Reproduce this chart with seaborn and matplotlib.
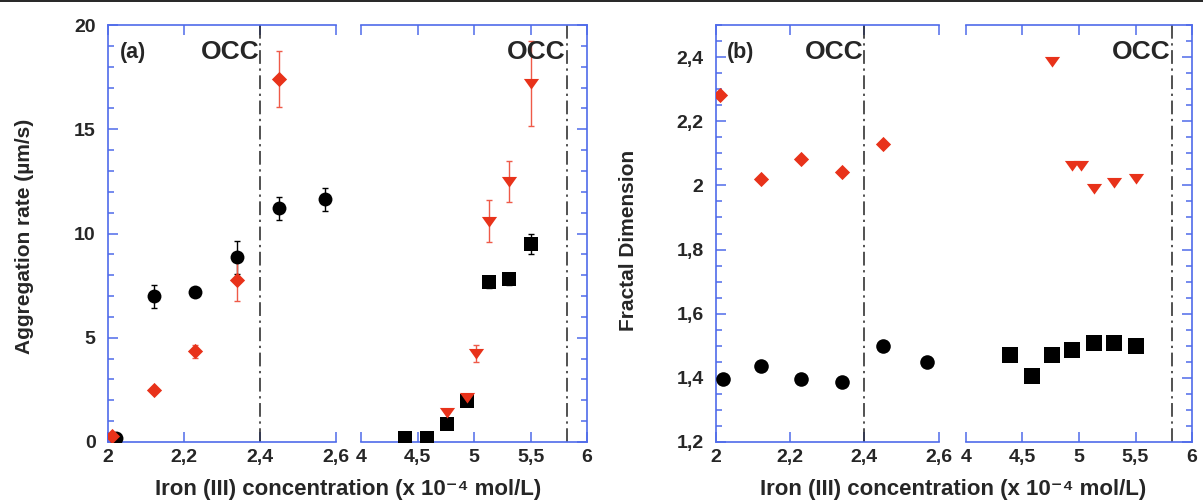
import numpy as np
import pandas as pd
import matplotlib
matplotlib.use('Agg')
import matplotlib.pyplot as plt
import matplotlib.transforms as mtransforms
from matplotlib.ticker import FuncFormatter, MultipleLocator, FixedLocator
from matplotlib.lines import Line2D
import seaborn as sns

# ---------------- data ----------------
# panel (a): aggregation rate, low concentration part (x 2 - 2.6)
circ_x = [2.02, 2.12, 2.23, 2.34, 2.45, 2.57]
circ_rate = [0.2, 7.0, 7.2, 8.85, 11.2, 11.65]
circ_rate_err = [0.0, 0.55, 0.2, 0.8, 0.53, 0.55]
diam_x = [2.01, 2.12, 2.23, 2.34, 2.45]
diam_rate = [0.3, 2.5, 4.35, 7.75, 17.4]
diam_rate_err = [0.0, 0.0, 0.3, 0.98, 1.33]

# panel (a): high concentration part (x 4 - 6)
sq_x = [4.39, 4.58, 4.76, 4.94, 5.13, 5.31, 5.5]
sq_rate = [0.2, 0.2, 0.86, 1.97, 7.65, 7.8, 9.5]
sq_rate_err = [0.0, 0.0, 0.0, 0.2, 0.25, 0.25, 0.5]
tri_x = [4.76, 4.94, 5.02, 5.13, 5.31, 5.5]
tri_rate = [1.45, 2.17, 4.25, 10.6, 12.5, 17.2]
tri_rate_err = [0.0, 0.0, 0.42, 1.0, 1.0, 2.05]

# panel (b): fractal dimension
circ_df = [1.397, 1.437, 1.397, 1.388, 1.498, 1.448]
diam_df = [2.281, 2.019, 2.081, 2.042, 2.128]
sq_df = [1.47, 1.407, 1.47, 1.488, 1.508, 1.508, 1.498]
tri_df = [2.387, 2.063, 2.063, 1.993, 2.011, 2.022]

occ_low = 2.4
occ_high = 5.82

x_label = 'Iron (III) concentration (x 10\u207b\u2074 mol/L)'

# ---------------- style ----------------
sns.set_style('ticks')
plt.rcParams['font.family'] = ['Liberation Sans', 'DejaVu Sans']
plt.rcParams['font.weight'] = 'bold'

blue = '#4f6bea'
red = '#e8321a'
red_err = '#ef5a48'

tri_marker = [(-1, 0.6), (1, 0.6), (0, -0.8)]

fmt = FuncFormatter(lambda v, p: f'{v:g}'.replace('.', ','))

fig = plt.figure(figsize=(12.03, 5.04), dpi=100)
fig.add_artist(Line2D([0, 1], [0.998, 0.998], color='black', lw=1.2,
                      transform=fig.transFigure))

W, H = 1203, 504


def make_axes(x0, x1):
    return fig.add_axes([x0 / W, (H - 442) / H, (x1 - x0) / W, 417 / H])


def style_axes(ax, side):
    for s in ax.spines.values():
        s.set_color(blue)
        s.set_linewidth(1.2)
    ax.tick_params(which='both', direction='in', color=blue, width=1.1,
                   labelsize=14, pad=5)
    ax.tick_params(which='major', length=7)
    ax.tick_params(which='minor', length=4)
    ax.tick_params(axis='x', top=True, bottom=True, which='major')
    ax.tick_params(axis='x', which='minor', top=False, bottom=False)
    ax.xaxis.set_major_formatter(fmt)
    if side == 'left':
        ax.spines['right'].set_visible(False)
        ax.tick_params(axis='y', which='both', left=True, right=False,
                       labelleft=True, pad=9)
        ax.yaxis.set_major_formatter(fmt)
    else:
        ax.spines['left'].set_visible(False)
        ax.tick_params(axis='y', which='both', left=False, right=True,
                       labelleft=False, labelright=False)
    for lab in ax.get_xticklabels() + ax.get_yticklabels():
        lab.set_fontweight('bold')


def scatter(ax, x, y, marker, color, size, err=None, ecolor=None):
    if err is not None:
        ax.errorbar(x, y, yerr=err, fmt='none', ecolor=ecolor,
                    elinewidth=1.0, capsize=2.5, capthick=1.0, zorder=2)
    df = pd.DataFrame({'x': x, 'y': y})
    sns.scatterplot(data=df, x='x', y='y', ax=ax, marker=marker,
                    color=color, s=size, edgecolor=color, linewidth=0,
                    zorder=3, legend=False)
    ax.set_xlabel('')
    ax.set_ylabel('')


def occ(ax, xpos):
    ax.axvline(xpos, color='#222222', lw=1.1, ls=(0, (9, 3, 1.5, 3)),
               zorder=1)
    trans = mtransforms.blended_transform_factory(ax.transData, ax.transAxes)
    ax.text(xpos - 0.003 * (ax.get_xlim()[1] - ax.get_xlim()[0]), 0.935,
            'OCC', transform=trans, ha='right', va='center',
            fontsize=19, fontweight='bold')


# ---------------- panel (a) ----------------
a1 = make_axes(108, 336)
a2 = make_axes(361, 587)
for ax in (a1, a2):
    ax.set_ylim(0, 20)
    ax.yaxis.set_major_locator(MultipleLocator(5))
    ax.yaxis.set_minor_locator(MultipleLocator(1))
a1.set_xlim(2, 2.6)
a1.xaxis.set_major_locator(FixedLocator([2, 2.2, 2.4, 2.6]))
a2.set_xlim(4, 6)
a2.xaxis.set_major_locator(FixedLocator([4, 4.5, 5, 5.5, 6]))

scatter(a1, circ_x, circ_rate, 'o', 'black', 100, circ_rate_err, 'black')
scatter(a1, diam_x, diam_rate, 'D', red, 60, diam_rate_err, red_err)
scatter(a2, sq_x, sq_rate, 's', 'black', 110, sq_rate_err, 'black')
scatter(a2, tri_x, tri_rate, tri_marker, red, 120, tri_rate_err, red_err)
occ(a1, occ_low)
occ(a2, occ_high)
style_axes(a1, 'left')
style_axes(a2, 'right')
a1.text(0.05, 0.935, '(a)', transform=a1.transAxes, ha='left', va='center',
        fontsize=15.5, fontweight='bold')

# ---------------- panel (b) ----------------
b1 = make_axes(716, 938.5)
b2 = make_axes(966, 1192)
for ax in (b1, b2):
    ax.set_ylim(1.2, 2.5)
    ax.yaxis.set_major_locator(MultipleLocator(0.2))
    ax.yaxis.set_minor_locator(MultipleLocator(0.05))
b1.set_xlim(2, 2.6)
b1.xaxis.set_major_locator(FixedLocator([2, 2.2, 2.4, 2.6]))
b2.set_xlim(4, 6)
b2.xaxis.set_major_locator(FixedLocator([4, 4.5, 5, 5.5, 6]))

scatter(b1, circ_x, circ_df, 'o', 'black', 110)
scatter(b1, diam_x, diam_df, 'D', red, 60)
scatter(b2, sq_x, sq_df, 's', 'black', 120)
scatter(b2, tri_x, tri_df, tri_marker, red, 120)
occ(b1, occ_low)
occ(b2, occ_high)
style_axes(b1, 'left')
style_axes(b2, 'right')
b1.text(0.05, 0.935, '(b)', transform=b1.transAxes, ha='left', va='center',
        fontsize=15.5, fontweight='bold')

# ---------------- labels ----------------
fig.text(25 / W, 1 - 236 / H, 'Aggregation rate (\u00b5m/s)', rotation=90,
         ha='center', va='center', fontsize=15, fontweight='bold')
fig.text(628 / W, 1 - 240 / H, 'Fractal Dimension', rotation=90,
         ha='center', va='center', fontsize=15, fontweight='bold')
fig.text(348 / W, 1 - 490 / H, x_label, ha='center', va='center',
         fontsize=16, fontweight='bold')
fig.text(953 / W, 1 - 490 / H, x_label, ha='center', va='center',
         fontsize=16, fontweight='bold')

fig.savefig('out.png', dpi=100)
